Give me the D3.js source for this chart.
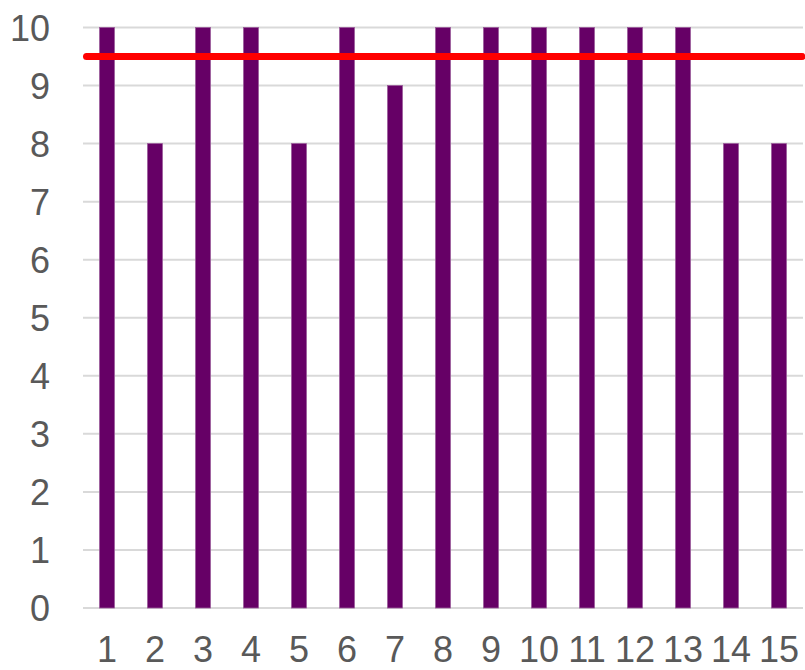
<!DOCTYPE html>
<html>
  <head>
    <style type="text/css">
        body { margin: 0; background: #fff; }
        svg text { font-family: "Liberation Sans", Arial, sans-serif; fill: #595959; }
    </style>
  </head>
  <body>
    <svg width="805" height="670"></svg>
    <script src="https://d3js.org/d3.v7.min.js"></script>
    <script>

    // chart data
    var categories = ["1","2","3","4","5","6","7","8","9","10","11","12","13","14","15"];
    var values = [10, 8, 10, 10, 8, 10, 9, 10, 10, 10, 10, 10, 10, 8, 8];
    var yTicks = [0, 1, 2, 3, 4, 5, 6, 7, 8, 9, 10];
    var target = 9.5;

    var svg = d3.select("svg"),
        margin = {top: 27.5, right: 2, bottom: 62, left: 83},
        width = +svg.attr("width") - margin.left - margin.right,
        height = +svg.attr("height") - margin.top - margin.bottom;

    var g = svg.append("g")
        .attr("transform", "translate(" + margin.left + "," + margin.top + ")");

    var x = d3.scaleBand()
        .domain(categories)
        .range([0, width])
        .paddingInner(0.69)
        .paddingOuter(0.345);

    var y = d3.scaleLinear()
        .domain([0, 10])
        .range([height, 0]);

    // gridlines
    g.append("g")
        .selectAll("line")
        .data(yTicks)
        .enter().append("line")
        .attr("x1", 0)
        .attr("x2", width)
        .attr("y1", function(d) { return y(d); })
        .attr("y2", function(d) { return y(d); })
        .attr("stroke", "#d9d9d9")
        .attr("stroke-width", 2);

    // y axis labels
    var yAxis = g.append("g")
        .call(d3.axisLeft(y).tickValues(yTicks).tickSize(0).tickPadding(33));
    yAxis.select(".domain").remove();
    yAxis.selectAll("text")
        .style("font-size", "36px")
        .attr("dy", "0.36em");

    // x axis labels
    var xAxis = g.append("g")
        .attr("transform", "translate(0," + height + ")")
        .call(d3.axisBottom(x).tickSize(0));
    xAxis.select(".domain").remove();
    xAxis.selectAll("text")
        .style("font-size", "36px")
        .attr("y", 54)
        .attr("dy", 0);

    // bars
    g.append("g")
        .selectAll("rect")
        .data(values)
        .enter().append("rect")
        .attr("x", function(d, i) { return x(categories[i]); })
        .attr("y", function(d) { return y(d); })
        .attr("width", x.bandwidth())
        .attr("height", function(d) { return y(0) - y(d); })
        .attr("fill", "#660066")
        .attr("stroke", "#9a5a9a")
        .attr("stroke-width", 0.8);

    // target line
    g.append("line")
        .attr("x1", 3.5)
        .attr("x2", width - 1)
        .attr("y1", y(target))
        .attr("y2", y(target))
        .attr("stroke", "#ff0000")
        .attr("stroke-width", 7)
        .attr("stroke-linecap", "round");

    </script>
  </body>
</html>
